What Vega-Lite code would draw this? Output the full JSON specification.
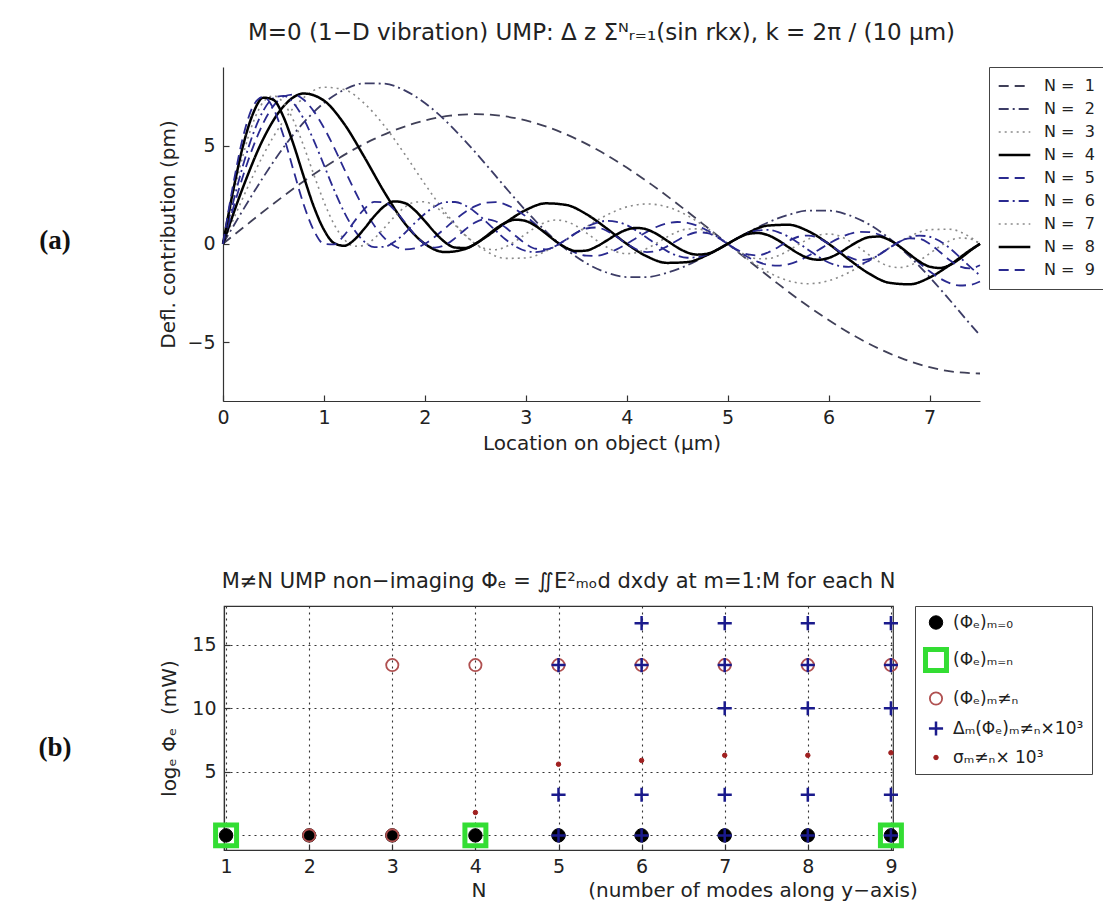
{
"$schema":"https://vega.github.io/schema/vega-lite/v6.json",
"background":"white",
"padding":{"left":0,"top":22,"right":0,"bottom":0},
"config":{
 "font":"DejaVu Sans",
 "view":{"stroke":null},
 "axis":{"labelFont":"DejaVu Sans","titleFont":"DejaVu Sans","labelFontSize":19,"titleFontSize":20,"titleFontWeight":"normal","labelColor":"#222","titleColor":"#222","domainColor":"#333","tickColor":"#333","domainWidth":1.2,"tickWidth":1.2,"grid":false,"labelFlush":false},
 "legend":{"labelFont":"DejaVu Sans","labelColor":"#222","strokeColor":"#444","fillColor":"white","padding":8},
 "title":{"font":"DejaVu Sans","fontSize":21,"fontWeight":"normal","color":"#222","anchor":"middle"}
},
"resolve":{"scale":{"color":"independent","strokeDash":"independent","strokeWidth":"independent","shape":"independent","fill":"independent","stroke":"independent","size":"independent"},"legend":{"color":"independent","strokeDash":"independent","strokeWidth":"independent","shape":"independent","fill":"independent","stroke":"independent","size":"independent"}},
"spacing":117,
"vconcat":[
{
 "spacing":48,
 "hconcat":[
  {"width":110,"height":334,"data":{"values":[{"t":"(a)"}]},"mark":{"type":"text","font":"Liberation Serif","fontWeight":"bold","fontSize":27,"color":"#111","dy":7},"encoding":{"text":{"field":"t","type":"nominal"}}},
  {
   "width":757,"height":334,
   "title":{"text":"M=0 (1−D vibration) UMP: Δ z Σᴺᵣ₌₁(sin rkx), k = 2π / (10 μm)","offset":22,"fontSize":23},
   "data":{"values":[
{"c":1,"x":0,"y":0},{"c":1,"x":0.25,"y":1.03},{"c":1,"x":0.5,"y":2.04},{"c":1,"x":0.75,"y":3.0},{"c":1,"x":1,"y":3.88},{"c":1,"x":1.25,"y":4.67},{"c":1,"x":1.5,"y":5.34},{"c":1,"x":1.75,"y":5.88},{"c":1,"x":2,"y":6.28},{"c":1,"x":2.25,"y":6.52},{"c":1,"x":2.5,"y":6.6},{"c":1,"x":2.75,"y":6.52},{"c":1,"x":3,"y":6.28},{"c":1,"x":3.25,"y":5.88},{"c":1,"x":3.5,"y":5.34},{"c":1,"x":3.75,"y":4.67},{"c":1,"x":4,"y":3.88},{"c":1,"x":4.25,"y":3.0},{"c":1,"x":4.5,"y":2.04},{"c":1,"x":4.75,"y":1.03},{"c":1,"x":5,"y":0},{"c":1,"x":5.25,"y":-1.03},{"c":1,"x":5.5,"y":-2.04},{"c":1,"x":5.75,"y":-3.0},{"c":1,"x":6,"y":-3.88},{"c":1,"x":6.25,"y":-4.67},{"c":1,"x":6.5,"y":-5.34},{"c":1,"x":6.75,"y":-5.88},{"c":1,"x":7,"y":-6.28},{"c":1,"x":7.25,"y":-6.52},{"c":1,"x":7.5,"y":-6.6},
{"c":2,"x":0,"y":0},{"c":2,"x":0.2,"y":1.74},{"c":2,"x":0.4,"y":3.4},{"c":2,"x":0.6,"y":4.91},{"c":2,"x":0.8,"y":6.18},{"c":2,"x":1.0,"y":7.17},{"c":2,"x":1.2,"y":7.84},{"c":2,"x":1.4,"y":8.17},{"c":2,"x":1.6,"y":8.15},{"c":2,"x":1.8,"y":7.81},{"c":2,"x":2.0,"y":7.17},{"c":2,"x":2.2,"y":6.29},{"c":2,"x":2.4,"y":5.23},{"c":2,"x":2.6,"y":4.07},{"c":2,"x":2.8,"y":2.86},{"c":2,"x":3.0,"y":1.69},{"c":2,"x":3.2,"y":0.63},{"c":2,"x":3.4,"y":-0.28},{"c":2,"x":3.6,"y":-0.99},{"c":2,"x":3.8,"y":-1.46},{"c":2,"x":4.0,"y":-1.69},{"c":2,"x":4.2,"y":-1.69},{"c":2,"x":4.4,"y":-1.47},{"c":2,"x":4.6,"y":-1.09},{"c":2,"x":4.8,"y":-0.57},{"c":2,"x":5.0,"y":0},{"c":2,"x":5.2,"y":0.57},{"c":2,"x":5.4,"y":1.09},{"c":2,"x":5.6,"y":1.47},{"c":2,"x":5.8,"y":1.69},{"c":2,"x":6.0,"y":1.69},{"c":2,"x":6.2,"y":1.46},{"c":2,"x":6.4,"y":0.99},{"c":2,"x":6.6,"y":0.28},{"c":2,"x":6.8,"y":-0.63},{"c":2,"x":7.0,"y":-1.69},{"c":2,"x":7.2,"y":-2.86},{"c":2,"x":7.4,"y":-4.07},{"c":2,"x":7.5,"y":-4.66},
{"c":3,"x":0,"y":0},{"c":3,"x":0.2,"y":2.37},{"c":3,"x":0.4,"y":4.53},{"c":3,"x":0.6,"y":6.26},{"c":3,"x":0.8,"y":7.44},{"c":3,"x":1.0,"y":7.97},{"c":3,"x":1.2,"y":7.85},{"c":3,"x":1.4,"y":7.15},{"c":3,"x":1.6,"y":6.0},{"c":3,"x":1.8,"y":4.57},{"c":3,"x":2.0,"y":3.04},{"c":3,"x":2.2,"y":1.62},{"c":3,"x":2.4,"y":0.45},{"c":3,"x":2.6,"y":-0.35},{"c":3,"x":2.8,"y":-0.74},{"c":3,"x":3.0,"y":-0.72},{"c":3,"x":3.2,"y":-0.37},{"c":3,"x":3.4,"y":0.21},{"c":3,"x":3.6,"y":0.86},{"c":3,"x":3.8,"y":1.46},{"c":3,"x":4.0,"y":1.88},{"c":3,"x":4.2,"y":2.03},{"c":3,"x":4.4,"y":1.88},{"c":3,"x":4.6,"y":1.44},{"c":3,"x":4.8,"y":0.78},{"c":3,"x":5.0,"y":0},{"c":3,"x":5.2,"y":-0.78},{"c":3,"x":5.4,"y":-1.44},{"c":3,"x":5.6,"y":-1.88},{"c":3,"x":5.8,"y":-2.03},{"c":3,"x":6.0,"y":-1.88},{"c":3,"x":6.2,"y":-1.46},{"c":3,"x":6.4,"y":-0.86},{"c":3,"x":6.6,"y":-0.21},{"c":3,"x":6.8,"y":0.37},{"c":3,"x":7.0,"y":0.72},{"c":3,"x":7.2,"y":0.74},{"c":3,"x":7.4,"y":0.35},{"c":3,"x":7.5,"y":0},
{"c":4,"x":0,"y":0},{"c":4,"x":0.2,"y":2.9},{"c":4,"x":0.4,"y":5.35},{"c":4,"x":0.6,"y":7.0},{"c":4,"x":0.8,"y":7.65},{"c":4,"x":1.0,"y":7.29},{"c":4,"x":1.2,"y":6.11},{"c":4,"x":1.4,"y":4.42},{"c":4,"x":1.6,"y":2.62},{"c":4,"x":1.8,"y":1.05},{"c":4,"x":2.0,"y":0},{"c":4,"x":2.2,"y":-0.42},{"c":4,"x":2.4,"y":-0.26},{"c":4,"x":2.6,"y":0.33},{"c":4,"x":2.8,"y":1.08},{"c":4,"x":3.0,"y":1.72},{"c":4,"x":3.2,"y":2.06},{"c":4,"x":3.4,"y":1.98},{"c":4,"x":3.6,"y":1.51},{"c":4,"x":3.8,"y":0.79},{"c":4,"x":4.0,"y":0},{"c":4,"x":4.2,"y":-0.64},{"c":4,"x":4.4,"y":-0.97},{"c":4,"x":4.6,"y":-0.93},{"c":4,"x":4.8,"y":-0.56},{"c":4,"x":5.0,"y":0},{"c":4,"x":5.2,"y":0.56},{"c":4,"x":5.4,"y":0.93},{"c":4,"x":5.6,"y":0.97},{"c":4,"x":5.8,"y":0.64},{"c":4,"x":6.0,"y":0},{"c":4,"x":6.2,"y":-0.79},{"c":4,"x":6.4,"y":-1.51},{"c":4,"x":6.6,"y":-1.98},{"c":4,"x":6.8,"y":-2.06},{"c":4,"x":7.0,"y":-1.72},{"c":4,"x":7.2,"y":-1.08},{"c":4,"x":7.4,"y":-0.33},{"c":4,"x":7.5,"y":0},
{"c":5,"x":0.0,"y":0},{"c":5,"x":0.1,"y":1.79},{"c":5,"x":0.2,"y":3.48},{"c":5,"x":0.3,"y":4.96},{"c":5,"x":0.4,"y":6.16},{"c":5,"x":0.5,"y":7.02},{"c":5,"x":0.6,"y":7.5},{"c":5,"x":0.7,"y":7.6},{"c":5,"x":0.8,"y":7.33},{"c":5,"x":0.9,"y":6.74},{"c":5,"x":1.0,"y":5.91},{"c":5,"x":1.1,"y":4.91},{"c":5,"x":1.2,"y":3.82},{"c":5,"x":1.3,"y":2.75},{"c":5,"x":1.4,"y":1.76},{"c":5,"x":1.5,"y":0.92},{"c":5,"x":1.6,"y":0.29},{"c":5,"x":1.7,"y":-0.11},{"c":5,"x":1.8,"y":-0.28},{"c":5,"x":1.9,"y":-0.23},{"c":5,"x":2.0,"y":0},{"c":5,"x":2.1,"y":0.36},{"c":5,"x":2.2,"y":0.79},{"c":5,"x":2.3,"y":1.23},{"c":5,"x":2.4,"y":1.62},{"c":5,"x":2.5,"y":1.92},{"c":5,"x":2.6,"y":2.09},{"c":5,"x":2.7,"y":2.12},{"c":5,"x":2.8,"y":2.0},{"c":5,"x":2.9,"y":1.75},{"c":5,"x":3.0,"y":1.4},{"c":5,"x":3.1,"y":0.98},{"c":5,"x":3.2,"y":0.54},{"c":5,"x":3.3,"y":0.12},{"c":5,"x":3.4,"y":-0.22},{"c":5,"x":3.5,"y":-0.47},{"c":5,"x":3.6,"y":-0.6},{"c":5,"x":3.7,"y":-0.61},{"c":5,"x":3.8,"y":-0.49},{"c":5,"x":3.9,"y":-0.28},{"c":5,"x":4.0,"y":0},{"c":5,"x":4.1,"y":0.31},{"c":5,"x":4.2,"y":0.61},{"c":5,"x":4.3,"y":0.87},{"c":5,"x":4.4,"y":1.04},{"c":5,"x":4.5,"y":1.11},{"c":5,"x":4.6,"y":1.07},{"c":5,"x":4.7,"y":0.92},{"c":5,"x":4.8,"y":0.67},{"c":5,"x":4.9,"y":0.36},{"c":5,"x":5.0,"y":0},{"c":5,"x":5.1,"y":-0.36},{"c":5,"x":5.2,"y":-0.67},{"c":5,"x":5.3,"y":-0.92},{"c":5,"x":5.4,"y":-1.07},{"c":5,"x":5.5,"y":-1.11},{"c":5,"x":5.6,"y":-1.04},{"c":5,"x":5.7,"y":-0.87},{"c":5,"x":5.8,"y":-0.61},{"c":5,"x":5.9,"y":-0.31},{"c":5,"x":6.0,"y":0},{"c":5,"x":6.1,"y":0.28},{"c":5,"x":6.2,"y":0.49},{"c":5,"x":6.3,"y":0.61},{"c":5,"x":6.4,"y":0.6},{"c":5,"x":6.5,"y":0.47},{"c":5,"x":6.6,"y":0.22},{"c":5,"x":6.7,"y":-0.12},{"c":5,"x":6.8,"y":-0.54},{"c":5,"x":6.9,"y":-0.98},{"c":5,"x":7.0,"y":-1.4},{"c":5,"x":7.1,"y":-1.75},{"c":5,"x":7.2,"y":-2.0},{"c":5,"x":7.3,"y":-2.12},{"c":5,"x":7.4,"y":-2.09},{"c":5,"x":7.5,"y":-1.92},
{"c":6,"x":0.0,"y":0},{"c":6,"x":0.1,"y":2.1},{"c":6,"x":0.2,"y":4.02},{"c":6,"x":0.3,"y":5.62},{"c":6,"x":0.4,"y":6.78},{"c":6,"x":0.5,"y":7.42},{"c":6,"x":0.6,"y":7.53},{"c":6,"x":0.7,"y":7.15},{"c":6,"x":0.8,"y":6.35},{"c":6,"x":0.9,"y":5.25},{"c":6,"x":1.0,"y":4.01},{"c":6,"x":1.1,"y":2.75},{"c":6,"x":1.2,"y":1.62},{"c":6,"x":1.3,"y":0.72},{"c":6,"x":1.4,"y":0.11},{"c":6,"x":1.5,"y":-0.17},{"c":6,"x":1.6,"y":-0.15},{"c":6,"x":1.7,"y":0.11},{"c":6,"x":1.8,"y":0.54},{"c":6,"x":1.9,"y":1.05},{"c":6,"x":2.0,"y":1.53},{"c":6,"x":2.1,"y":1.91},{"c":6,"x":2.2,"y":2.12},{"c":6,"x":2.3,"y":2.13},{"c":6,"x":2.4,"y":1.95},{"c":6,"x":2.5,"y":1.61},{"c":6,"x":2.6,"y":1.16},{"c":6,"x":2.7,"y":0.68},{"c":6,"x":2.8,"y":0.22},{"c":6,"x":2.9,"y":-0.14},{"c":6,"x":3.0,"y":-0.36},{"c":6,"x":3.1,"y":-0.42},{"c":6,"x":3.2,"y":-0.32},{"c":6,"x":3.3,"y":-0.1},{"c":6,"x":3.4,"y":0.21},{"c":6,"x":3.5,"y":0.55},{"c":6,"x":3.6,"y":0.86},{"c":6,"x":3.7,"y":1.07},{"c":6,"x":3.8,"y":1.17},{"c":6,"x":3.9,"y":1.12},{"c":6,"x":4.0,"y":0.95},{"c":6,"x":4.1,"y":0.66},{"c":6,"x":4.2,"y":0.31},{"c":6,"x":4.3,"y":-0.05},{"c":6,"x":4.4,"y":-0.37},{"c":6,"x":4.5,"y":-0.6},{"c":6,"x":4.6,"y":-0.71},{"c":6,"x":4.7,"y":-0.68},{"c":6,"x":4.8,"y":-0.54},{"c":6,"x":4.9,"y":-0.29},{"c":6,"x":5.0,"y":0},{"c":6,"x":5.1,"y":0.29},{"c":6,"x":5.2,"y":0.54},{"c":6,"x":5.3,"y":0.68},{"c":6,"x":5.4,"y":0.71},{"c":6,"x":5.5,"y":0.6},{"c":6,"x":5.6,"y":0.37},{"c":6,"x":5.7,"y":0.05},{"c":6,"x":5.8,"y":-0.31},{"c":6,"x":5.9,"y":-0.66},{"c":6,"x":6.0,"y":-0.95},{"c":6,"x":6.1,"y":-1.12},{"c":6,"x":6.2,"y":-1.17},{"c":6,"x":6.3,"y":-1.07},{"c":6,"x":6.4,"y":-0.86},{"c":6,"x":6.5,"y":-0.55},{"c":6,"x":6.6,"y":-0.21},{"c":6,"x":6.7,"y":0.1},{"c":6,"x":6.8,"y":0.32},{"c":6,"x":6.9,"y":0.42},{"c":6,"x":7.0,"y":0.36},{"c":6,"x":7.1,"y":0.14},{"c":6,"x":7.2,"y":-0.22},{"c":6,"x":7.3,"y":-0.68},{"c":6,"x":7.4,"y":-1.16},{"c":6,"x":7.5,"y":-1.61},
{"c":7,"x":0.0,"y":0},{"c":7,"x":0.1,"y":2.4},{"c":7,"x":0.2,"y":4.54},{"c":7,"x":0.3,"y":6.2},{"c":7,"x":0.4,"y":7.22},{"c":7,"x":0.5,"y":7.53},{"c":7,"x":0.6,"y":7.17},{"c":7,"x":0.7,"y":6.26},{"c":7,"x":0.8,"y":4.97},{"c":7,"x":0.9,"y":3.52},{"c":7,"x":1.0,"y":2.14},{"c":7,"x":1.1,"y":1.0},{"c":7,"x":1.2,"y":0.23},{"c":7,"x":1.3,"y":-0.12},{"c":7,"x":1.4,"y":-0.08},{"c":7,"x":1.5,"y":0.28},{"c":7,"x":1.6,"y":0.82},{"c":7,"x":1.7,"y":1.39},{"c":7,"x":1.8,"y":1.86},{"c":7,"x":1.9,"y":2.12},{"c":7,"x":2.0,"y":2.14},{"c":7,"x":2.1,"y":1.91},{"c":7,"x":2.2,"y":1.48},{"c":7,"x":2.3,"y":0.95},{"c":7,"x":2.4,"y":0.43},{"c":7,"x":2.5,"y":0},{"c":7,"x":2.6,"y":-0.25},{"c":7,"x":2.7,"y":-0.3},{"c":7,"x":2.8,"y":-0.15},{"c":7,"x":2.9,"y":0.14},{"c":7,"x":3.0,"y":0.5},{"c":7,"x":3.1,"y":0.85},{"c":7,"x":3.2,"y":1.11},{"c":7,"x":3.3,"y":1.21},{"c":7,"x":3.4,"y":1.14},{"c":7,"x":3.5,"y":0.91},{"c":7,"x":3.6,"y":0.56},{"c":7,"x":3.7,"y":0.18},{"c":7,"x":3.8,"y":-0.16},{"c":7,"x":3.9,"y":-0.41},{"c":7,"x":4.0,"y":-0.5},{"c":7,"x":4.1,"y":-0.44},{"c":7,"x":4.2,"y":-0.24},{"c":7,"x":4.3,"y":0.04},{"c":7,"x":4.4,"y":0.35},{"c":7,"x":4.5,"y":0.61},{"c":7,"x":4.6,"y":0.75},{"c":7,"x":4.7,"y":0.76},{"c":7,"x":4.8,"y":0.61},{"c":7,"x":4.9,"y":0.34},{"c":7,"x":5.0,"y":0},{"c":7,"x":5.1,"y":-0.34},{"c":7,"x":5.2,"y":-0.61},{"c":7,"x":5.3,"y":-0.76},{"c":7,"x":5.4,"y":-0.75},{"c":7,"x":5.5,"y":-0.61},{"c":7,"x":5.6,"y":-0.35},{"c":7,"x":5.7,"y":-0.04},{"c":7,"x":5.8,"y":0.24},{"c":7,"x":5.9,"y":0.44},{"c":7,"x":6.0,"y":0.5},{"c":7,"x":6.1,"y":0.41},{"c":7,"x":6.2,"y":0.16},{"c":7,"x":6.3,"y":-0.18},{"c":7,"x":6.4,"y":-0.56},{"c":7,"x":6.5,"y":-0.91},{"c":7,"x":6.6,"y":-1.14},{"c":7,"x":6.7,"y":-1.21},{"c":7,"x":6.8,"y":-1.11},{"c":7,"x":6.9,"y":-0.85},{"c":7,"x":7.0,"y":-0.5},{"c":7,"x":7.1,"y":-0.14},{"c":7,"x":7.2,"y":0.15},{"c":7,"x":7.3,"y":0.3},{"c":7,"x":7.4,"y":0.25},{"c":7,"x":7.5,"y":0},
{"c":8,"x":0.0,"y":0},{"c":8,"x":0.1,"y":2.69},{"c":8,"x":0.2,"y":5.02},{"c":8,"x":0.3,"y":6.66},{"c":8,"x":0.4,"y":7.44},{"c":8,"x":0.5,"y":7.33},{"c":8,"x":0.6,"y":6.45},{"c":8,"x":0.7,"y":5.04},{"c":8,"x":0.8,"y":3.42},{"c":8,"x":0.9,"y":1.89},{"c":8,"x":1.0,"y":0.72},{"c":8,"x":1.1,"y":0.04},{"c":8,"x":1.2,"y":-0.1},{"c":8,"x":1.3,"y":0.2},{"c":8,"x":1.4,"y":0.77},{"c":8,"x":1.5,"y":1.41},{"c":8,"x":1.6,"y":1.92},{"c":8,"x":1.7,"y":2.16},{"c":8,"x":1.8,"y":2.08},{"c":8,"x":1.9,"y":1.71},{"c":8,"x":2.0,"y":1.16},{"c":8,"x":2.1,"y":0.57},{"c":8,"x":2.2,"y":0.08},{"c":8,"x":2.3,"y":-0.19},{"c":8,"x":2.4,"y":-0.21},{"c":8,"x":2.5,"y":0},{"c":8,"x":2.6,"y":0.36},{"c":8,"x":2.7,"y":0.76},{"c":8,"x":2.8,"y":1.08},{"c":8,"x":2.9,"y":1.23},{"c":8,"x":3.0,"y":1.16},{"c":8,"x":3.1,"y":0.9},{"c":8,"x":3.2,"y":0.52},{"c":8,"x":3.3,"y":0.12},{"c":8,"x":3.4,"y":-0.2},{"c":8,"x":3.5,"y":-0.37},{"c":8,"x":3.6,"y":-0.34},{"c":8,"x":3.7,"y":-0.14},{"c":8,"x":3.8,"y":0.16},{"c":8,"x":3.9,"y":0.48},{"c":8,"x":4.0,"y":0.72},{"c":8,"x":4.1,"y":0.81},{"c":8,"x":4.2,"y":0.73},{"c":8,"x":4.3,"y":0.49},{"c":8,"x":4.4,"y":0.16},{"c":8,"x":4.5,"y":-0.18},{"c":8,"x":4.6,"y":-0.44},{"c":8,"x":4.7,"y":-0.55},{"c":8,"x":4.8,"y":-0.5},{"c":8,"x":4.9,"y":-0.29},{"c":8,"x":5.0,"y":0},{"c":8,"x":5.1,"y":0.29},{"c":8,"x":5.2,"y":0.5},{"c":8,"x":5.3,"y":0.55},{"c":8,"x":5.4,"y":0.44},{"c":8,"x":5.5,"y":0.18},{"c":8,"x":5.6,"y":-0.16},{"c":8,"x":5.7,"y":-0.49},{"c":8,"x":5.8,"y":-0.73},{"c":8,"x":5.9,"y":-0.81},{"c":8,"x":6.0,"y":-0.72},{"c":8,"x":6.1,"y":-0.48},{"c":8,"x":6.2,"y":-0.16},{"c":8,"x":6.3,"y":0.14},{"c":8,"x":6.4,"y":0.34},{"c":8,"x":6.5,"y":0.37},{"c":8,"x":6.6,"y":0.2},{"c":8,"x":6.7,"y":-0.12},{"c":8,"x":6.8,"y":-0.52},{"c":8,"x":6.9,"y":-0.9},{"c":8,"x":7.0,"y":-1.16},{"c":8,"x":7.1,"y":-1.23},{"c":8,"x":7.2,"y":-1.08},{"c":8,"x":7.3,"y":-0.76},{"c":8,"x":7.4,"y":-0.36},{"c":8,"x":7.5,"y":0},
{"c":9,"x":0.0,"y":0},{"c":9,"x":0.1,"y":2.99},{"c":9,"x":0.2,"y":5.47},{"c":9,"x":0.3,"y":7.03},{"c":9,"x":0.4,"y":7.48},{"c":9,"x":0.5,"y":6.88},{"c":9,"x":0.6,"y":5.49},{"c":9,"x":0.7,"y":3.71},{"c":9,"x":0.8,"y":1.99},{"c":9,"x":0.9,"y":0.68},{"c":9,"x":1.0,"y":0},{"c":9,"x":1.1,"y":-0.03},{"c":9,"x":1.2,"y":0.43},{"c":9,"x":1.3,"y":1.13},{"c":9,"x":1.4,"y":1.77},{"c":9,"x":1.5,"y":2.14},{"c":9,"x":1.6,"y":2.11},{"c":9,"x":1.7,"y":1.72},{"c":9,"x":1.8,"y":1.11},{"c":9,"x":1.9,"y":0.47},{"c":9,"x":2.0,"y":0},{"c":9,"x":2.1,"y":-0.19},{"c":9,"x":2.2,"y":-0.06},{"c":9,"x":2.3,"y":0.29},{"c":9,"x":2.4,"y":0.73},{"c":9,"x":2.5,"y":1.09},{"c":9,"x":2.6,"y":1.25},{"c":9,"x":2.7,"y":1.15},{"c":9,"x":2.8,"y":0.83},{"c":9,"x":2.9,"y":0.4},{"c":9,"x":3.0,"y":0},{"c":9,"x":3.1,"y":-0.25},{"c":9,"x":3.2,"y":-0.28},{"c":9,"x":3.3,"y":-0.1},{"c":9,"x":3.4,"y":0.22},{"c":9,"x":3.5,"y":0.56},{"c":9,"x":3.6,"y":0.78},{"c":9,"x":3.7,"y":0.83},{"c":9,"x":3.8,"y":0.67},{"c":9,"x":3.9,"y":0.36},{"c":9,"x":4.0,"y":0},{"c":9,"x":4.1,"y":-0.29},{"c":9,"x":4.2,"y":-0.42},{"c":9,"x":4.3,"y":-0.36},{"c":9,"x":4.4,"y":-0.13},{"c":9,"x":4.5,"y":0.17},{"c":9,"x":4.6,"y":0.44},{"c":9,"x":4.7,"y":0.59},{"c":9,"x":4.8,"y":0.54},{"c":9,"x":4.9,"y":0.32},{"c":9,"x":5.0,"y":0},{"c":9,"x":5.1,"y":-0.32},{"c":9,"x":5.2,"y":-0.54},{"c":9,"x":5.3,"y":-0.59},{"c":9,"x":5.4,"y":-0.44},{"c":9,"x":5.5,"y":-0.17},{"c":9,"x":5.6,"y":0.13},{"c":9,"x":5.7,"y":0.36},{"c":9,"x":5.8,"y":0.42},{"c":9,"x":5.9,"y":0.29},{"c":9,"x":6.0,"y":0},{"c":9,"x":6.1,"y":-0.36},{"c":9,"x":6.2,"y":-0.67},{"c":9,"x":6.3,"y":-0.83},{"c":9,"x":6.4,"y":-0.78},{"c":9,"x":6.5,"y":-0.56},{"c":9,"x":6.6,"y":-0.22},{"c":9,"x":6.7,"y":0.1},{"c":9,"x":6.8,"y":0.28},{"c":9,"x":6.9,"y":0.25},{"c":9,"x":7.0,"y":0},{"c":9,"x":7.1,"y":-0.4},{"c":9,"x":7.2,"y":-0.83},{"c":9,"x":7.3,"y":-1.15},{"c":9,"x":7.4,"y":-1.25},{"c":9,"x":7.5,"y":-1.09}
   ]},
   "mark":{"type":"line","interpolate":"monotone","strokeCap":"butt"},
   "encoding":{
    "x":{"field":"x","type":"quantitative","scale":{"domain":[0,7.5],"nice":false,"zero":false},"axis":{"values":[0,1,2,3,4,5,6,7],"format":"d","title":"Location on object (μm)","tickSize":-6,"labelPadding":13,"titlePadding":6}},
    "y":{"field":"y","type":"quantitative","scale":{"domain":[-8,9],"nice":false,"zero":false},"axis":{"values":[-5,0,5],"title":"Defl. contribution (pm)","tickSize":-6,"labelPadding":14,"minExtent":26,"maxExtent":26,"titlePadding":19}},
    "color":{"field":"c","type":"nominal","scale":{"domain":[1,2,3,4,5,6,7,8,9],"range":["#404058","#3c3c66","#8a8a8a","#000000","#2a2a90","#2a2a90","#8a8a8a","#000000","#2a2a90"]},"legend":{"title":null,"orient":"right","offset":4,"labelFontSize":16,"labelOffset":12,"symbolSize":1000,"clipHeight":22,"rowPadding":1,"labelExpr":"'N = \u00a0' + datum.label","symbolType":"stroke"}},
    "strokeDash":{"field":"c","type":"nominal","scale":{"domain":[1,2,3,4,5,6,7,8,9],"range":[[10,6],[10,4,2,4],[2,4],[1,0],[10,6],[10,4,2,4],[2,4],[1,0],[10,6]]}},
    "strokeWidth":{"field":"c","type":"nominal","scale":{"type":"ordinal","domain":[1,2,3,4,5,6,7,8,9],"range":[1.8,1.8,1.6,2.5,1.8,1.8,1.6,2.5,1.8]}}
   }
  }
 ]
},
{
 "spacing":48,
 "hconcat":[
  {"width":110,"height":244,"data":{"values":[{"t":"(b)"}]},"mark":{"type":"text","font":"Liberation Serif","fontWeight":"bold","fontSize":27,"color":"#111","dy":20},"encoding":{"text":{"field":"t","type":"nominal"}}},
  {
   "width":669,"height":244,
   "view":{"stroke":"#333","strokeWidth":1.2},
   "title":{"text":"M≠N UMP non−imaging Φₑ = ∬E²ₘₒd dxdy at m=1:M for each N","offset":14},
   "data":{"values":[
{"s":"(Φₑ)ₘ₌ₙ","N":1,"v":0},{"s":"(Φₑ)ₘ₌ₙ","N":4,"v":0},{"s":"(Φₑ)ₘ₌ₙ","N":9,"v":0},
{"s":"(Φₑ)ₘ₌₀","N":1,"v":0},{"s":"(Φₑ)ₘ₌₀","N":2,"v":0},{"s":"(Φₑ)ₘ₌₀","N":3,"v":0},{"s":"(Φₑ)ₘ₌₀","N":4,"v":0},{"s":"(Φₑ)ₘ₌₀","N":5,"v":0},{"s":"(Φₑ)ₘ₌₀","N":6,"v":0},{"s":"(Φₑ)ₘ₌₀","N":7,"v":0},{"s":"(Φₑ)ₘ₌₀","N":8,"v":0},{"s":"(Φₑ)ₘ₌₀","N":9,"v":0},
{"s":"(Φₑ)ₘ≠ₙ","N":2,"v":0},{"s":"(Φₑ)ₘ≠ₙ","N":3,"v":0},{"s":"(Φₑ)ₘ≠ₙ","N":3,"v":13.4},{"s":"(Φₑ)ₘ≠ₙ","N":4,"v":13.4},{"s":"(Φₑ)ₘ≠ₙ","N":5,"v":13.4},{"s":"(Φₑ)ₘ≠ₙ","N":6,"v":13.4},{"s":"(Φₑ)ₘ≠ₙ","N":7,"v":13.4},{"s":"(Φₑ)ₘ≠ₙ","N":8,"v":13.4},{"s":"(Φₑ)ₘ≠ₙ","N":9,"v":13.4},
{"s":"Δₘ(Φₑ)ₘ≠ₙ×10³","N":5,"v":0},{"s":"Δₘ(Φₑ)ₘ≠ₙ×10³","N":6,"v":0},{"s":"Δₘ(Φₑ)ₘ≠ₙ×10³","N":7,"v":0},{"s":"Δₘ(Φₑ)ₘ≠ₙ×10³","N":8,"v":0},{"s":"Δₘ(Φₑ)ₘ≠ₙ×10³","N":9,"v":0},
{"s":"Δₘ(Φₑ)ₘ≠ₙ×10³","N":5,"v":3.2},{"s":"Δₘ(Φₑ)ₘ≠ₙ×10³","N":6,"v":3.2},{"s":"Δₘ(Φₑ)ₘ≠ₙ×10³","N":7,"v":3.2},{"s":"Δₘ(Φₑ)ₘ≠ₙ×10³","N":8,"v":3.2},{"s":"Δₘ(Φₑ)ₘ≠ₙ×10³","N":9,"v":3.2},
{"s":"Δₘ(Φₑ)ₘ≠ₙ×10³","N":7,"v":10.0},{"s":"Δₘ(Φₑ)ₘ≠ₙ×10³","N":8,"v":10.0},{"s":"Δₘ(Φₑ)ₘ≠ₙ×10³","N":9,"v":10.0},
{"s":"Δₘ(Φₑ)ₘ≠ₙ×10³","N":5,"v":13.4},{"s":"Δₘ(Φₑ)ₘ≠ₙ×10³","N":6,"v":13.4},{"s":"Δₘ(Φₑ)ₘ≠ₙ×10³","N":7,"v":13.4},{"s":"Δₘ(Φₑ)ₘ≠ₙ×10³","N":8,"v":13.4},{"s":"Δₘ(Φₑ)ₘ≠ₙ×10³","N":9,"v":13.4},
{"s":"Δₘ(Φₑ)ₘ≠ₙ×10³","N":6,"v":16.7},{"s":"Δₘ(Φₑ)ₘ≠ₙ×10³","N":7,"v":16.7},{"s":"Δₘ(Φₑ)ₘ≠ₙ×10³","N":8,"v":16.7},{"s":"Δₘ(Φₑ)ₘ≠ₙ×10³","N":9,"v":16.7},
{"s":"σₘ≠ₙ× 10³","N":4,"v":1.8},{"s":"σₘ≠ₙ× 10³","N":5,"v":5.6},{"s":"σₘ≠ₙ× 10³","N":6,"v":5.9},{"s":"σₘ≠ₙ× 10³","N":7,"v":6.3},{"s":"σₘ≠ₙ× 10³","N":8,"v":6.3},{"s":"σₘ≠ₙ× 10³","N":9,"v":6.5}
   ]},
   "mark":{"type":"point","opacity":1,"fillOpacity":1,"strokeOpacity":1},
   "encoding":{
    "x":{"field":"N","type":"quantitative","scale":{"domain":[0.975,9.025],"nice":false,"zero":false},"axis":{"values":[1,2,3,4,5,6,7,8,9],"format":"d","grid":true,"gridDash":[2,4],"gridColor":"#333","gridWidth":1.1,"title":"N\u00a0\u00a0\u00a0\u00a0\u00a0\u00a0\u00a0\u00a0\u00a0\u00a0\u00a0\u00a0\u00a0\u00a0\u00a0\u00a0(number of modes along y−axis)","titleX":247,"titleAlign":"left","tickSize":-6,"labelPadding":13,"titlePadding":4}},
    "y":{"field":"v","type":"quantitative","scale":{"domain":[-1.15,18.05],"nice":false,"zero":false},"axis":{"values":[0,5,10,15],"labelExpr":"datum.value === 0 ? '' : datum.label","grid":true,"gridDash":[2,4],"gridColor":"#333","gridWidth":1.1,"title":"logₑ Φₑ\u00a0\u00a0(mW)","tickSize":-6,"labelPadding":14,"minExtent":26,"maxExtent":26,"titlePadding":19}},
    "shape":{"field":"s","type":"nominal","scale":{"domain":["(Φₑ)ₘ₌₀","(Φₑ)ₘ₌ₙ","(Φₑ)ₘ≠ₙ","Δₘ(Φₑ)ₘ≠ₙ×10³","σₘ≠ₙ× 10³"],"range":["circle","square","circle","M-1,0H1M0,-1V1","circle"]},"legend":{"title":null,"orient":"right","offset":-3,"labelFontSize":17,"rowPadding":7}},
    "fill":{"field":"s","type":"nominal","scale":{"domain":["(Φₑ)ₘ₌₀","(Φₑ)ₘ₌ₙ","(Φₑ)ₘ≠ₙ","Δₘ(Φₑ)ₘ≠ₙ×10³","σₘ≠ₙ× 10³"],"range":["#000000","transparent","transparent","transparent","#a02020"]}},
    "stroke":{"field":"s","type":"nominal","scale":{"domain":["(Φₑ)ₘ₌₀","(Φₑ)ₘ₌ₙ","(Φₑ)ₘ≠ₙ","Δₘ(Φₑ)ₘ≠ₙ×10³","σₘ≠ₙ× 10³"],"range":["#000000","#33dd33","#b05050","#1a1a8c","#a02020"]}},
    "size":{"field":"s","type":"nominal","scale":{"type":"ordinal","domain":["(Φₑ)ₘ₌₀","(Φₑ)ₘ₌ₙ","(Φₑ)ₘ≠ₙ","Δₘ(Φₑ)ₘ≠ₙ×10³","σₘ≠ₙ× 10³"],"range":[180,440,150,200,20]}},
    "strokeWidth":{"field":"s","type":"nominal","scale":{"type":"ordinal","domain":["(Φₑ)ₘ₌₀","(Φₑ)ₘ₌ₙ","(Φₑ)ₘ≠ₙ","Δₘ(Φₑ)ₘ≠ₙ×10³","σₘ≠ₙ× 10³"],"range":[1,5,1.8,2.5,1]}}
   }
  }
 ]
}
]
}
